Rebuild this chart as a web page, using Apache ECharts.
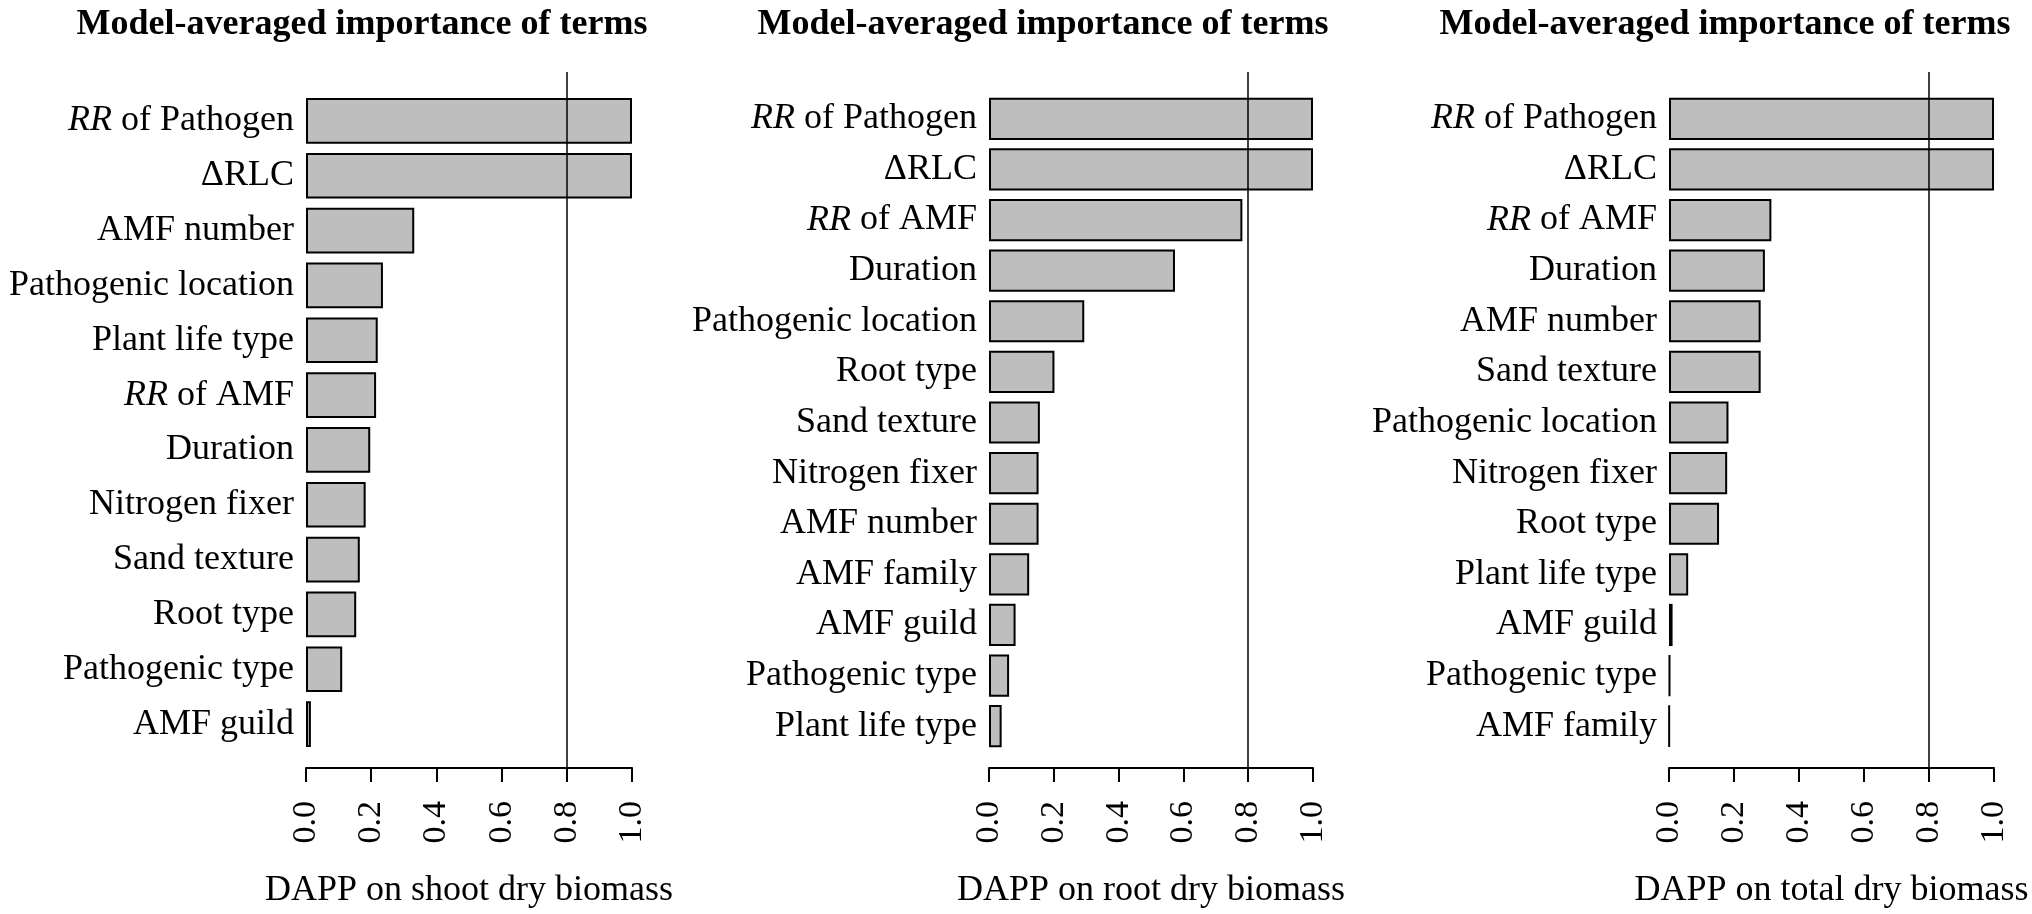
<!DOCTYPE html>
<html>
<head>
<meta charset="utf-8">
<title>Model-averaged importance of terms</title>
<script src="https://cdn.jsdelivr.net/npm/echarts@6/dist/echarts.min.js"></script>
<style>
  html, body { margin: 0; padding: 0; background: #fff; }
  #main { width: 2032px; height: 914px; }
</style>
</head>
<body>
<div id="main"></div>
<script>
// --- data ---
var titleText = 'Model-averaged importance of terms';
var threshold = 0.8;
var xTicks = [0, 0.2, 0.4, 0.6, 0.8, 1.0];

var shootTerms = ['RR of Pathogen', '\u0394RLC', 'AMF number', 'Pathogenic location', 'Plant life type',
    'RR of AMF', 'Duration', 'Nitrogen fixer', 'Sand texture', 'Root type', 'Pathogenic type', 'AMF guild'];
var shootValues = [1.0, 1.0, 0.332, 0.236, 0.220, 0.215, 0.197, 0.183, 0.165, 0.154, 0.111, 0.015];

var rootTerms = ['RR of Pathogen', '\u0394RLC', 'RR of AMF', 'Duration', 'Pathogenic location', 'Root type',
    'Sand texture', 'Nitrogen fixer', 'AMF number', 'AMF family', 'AMF guild', 'Pathogenic type', 'Plant life type'];
var rootValues = [1.0, 1.0, 0.782, 0.574, 0.294, 0.202, 0.157, 0.153, 0.153, 0.124, 0.082, 0.062, 0.039];

var totalTerms = ['RR of Pathogen', '\u0394RLC', 'RR of AMF', 'Duration', 'AMF number', 'Sand texture',
    'Pathogenic location', 'Nitrogen fixer', 'Root type', 'Plant life type', 'AMF guild', 'Pathogenic type', 'AMF family'];
var totalValues = [1.0, 1.0, 0.315, 0.295, 0.282, 0.282, 0.183, 0.179, 0.154, 0.059, 0.011, 0.003, 0.001];

var axisNames = ['DAPP on shoot dry biomass', 'DAPP on root dry biomass', 'DAPP on total dry biomass'];

// --- layout ---
var W = 2032;
var serif = "'Liberation Serif', 'Times New Roman', serif";
var panels = [
    { terms: shootTerms, values: shootValues, name: axisNames[0], x0: 306, x1: 632, titleX: 362 },
    { terms: rootTerms, values: rootValues, name: axisNames[1], x0: 989, x1: 1313, titleX: 1043 },
    { terms: totalTerms, values: totalValues, name: axisNames[2], x0: 1669, x1: 1994, titleX: 1725 }
];

function termLabel(v) {
    if (v.indexOf('RR ') === 0) {
        return '{i|RR} ' + v.slice(3);
    }
    return v;
}

var titles = [], grids = [], xAxes = [], yAxes = [], series = [];

panels.forEach(function (p, k) {
    titles.push({
        text: titleText,
        left: p.titleX,
        top: 7,
        padding: 0,
        textAlign: 'center',
        textStyle: { fontFamily: serif, fontWeight: 'bold', fontSize: 36, color: '#000' }
    });

    // grid for the bars
    grids.push({ left: p.x0, right: W - p.x1, top: 93.5, bottom: 162.5 });
    // grid for the axis and the reference line
    grids.push({ left: p.x0, right: W - p.x1, top: 72, bottom: 141 });

    var ga = 2 * k, gb = 2 * k + 1;

    xAxes.push({ gridIndex: ga, type: 'value', min: 0, max: 1, show: false });
    yAxes.push({
        gridIndex: ga,
        type: 'category',
        inverse: true,
        data: p.terms,
        axisLine: { show: false },
        axisTick: { show: false },
        axisLabel: {
            margin: 12,
            fontFamily: serif,
            fontSize: 36,
            color: '#000',
            formatter: termLabel,
            rich: {
                i: { fontFamily: serif, fontSize: 36, fontStyle: 'italic', color: '#000' }
            }
        },
        splitLine: { show: false }
    });

    xAxes.push({
        gridIndex: gb,
        type: 'value',
        min: 0,
        max: 1,
        interval: 0.2,
        position: 'bottom',
        axisLine: { show: true, onZero: false, lineStyle: { color: '#000', width: 2 } },
        axisTick: { show: true, length: 14, lineStyle: { color: '#000', width: 2 } },
        splitLine: { show: false },
        axisLabel: {
            rotate: 90,
            margin: 33,
            padding: [12, 0, 0, 0],
            fontFamily: serif,
            fontSize: 34,
            color: '#000',
            formatter: function (v) { return v.toFixed(1); }
        },
        name: p.name,
        nameLocation: 'middle',
        nameGap: 105,
        nameTextStyle: { fontFamily: serif, fontSize: 36, color: '#000' }
    });
    yAxes.push({ gridIndex: gb, type: 'value', min: 0, max: 1, show: false });

    series.push({
        type: 'bar',
        xAxisIndex: ga,
        yAxisIndex: ga,
        data: p.values,
        barCategoryGap: '16.67%',
        itemStyle: { color: '#bebebe', borderColor: '#000', borderWidth: 2 },
        z: 2
    });
    series.push({
        type: 'line',
        xAxisIndex: gb,
        yAxisIndex: gb,
        data: [],
        z: 5,
        markLine: {
            silent: true,
            symbol: ['none', 'none'],
            label: { show: false },
            lineStyle: { color: '#000', width: 1.5, type: 'solid' },
            data: [{ xAxis: threshold }]
        }
    });
});

var myChart = echarts.init(document.getElementById('main'));
var option = {
    backgroundColor: '#fff',
    animation: false,
    title: titles,
    grid: grids,
    xAxis: xAxes,
    yAxis: yAxes,
    series: series
};
myChart.setOption(option);
</script>
</body>
</html>
